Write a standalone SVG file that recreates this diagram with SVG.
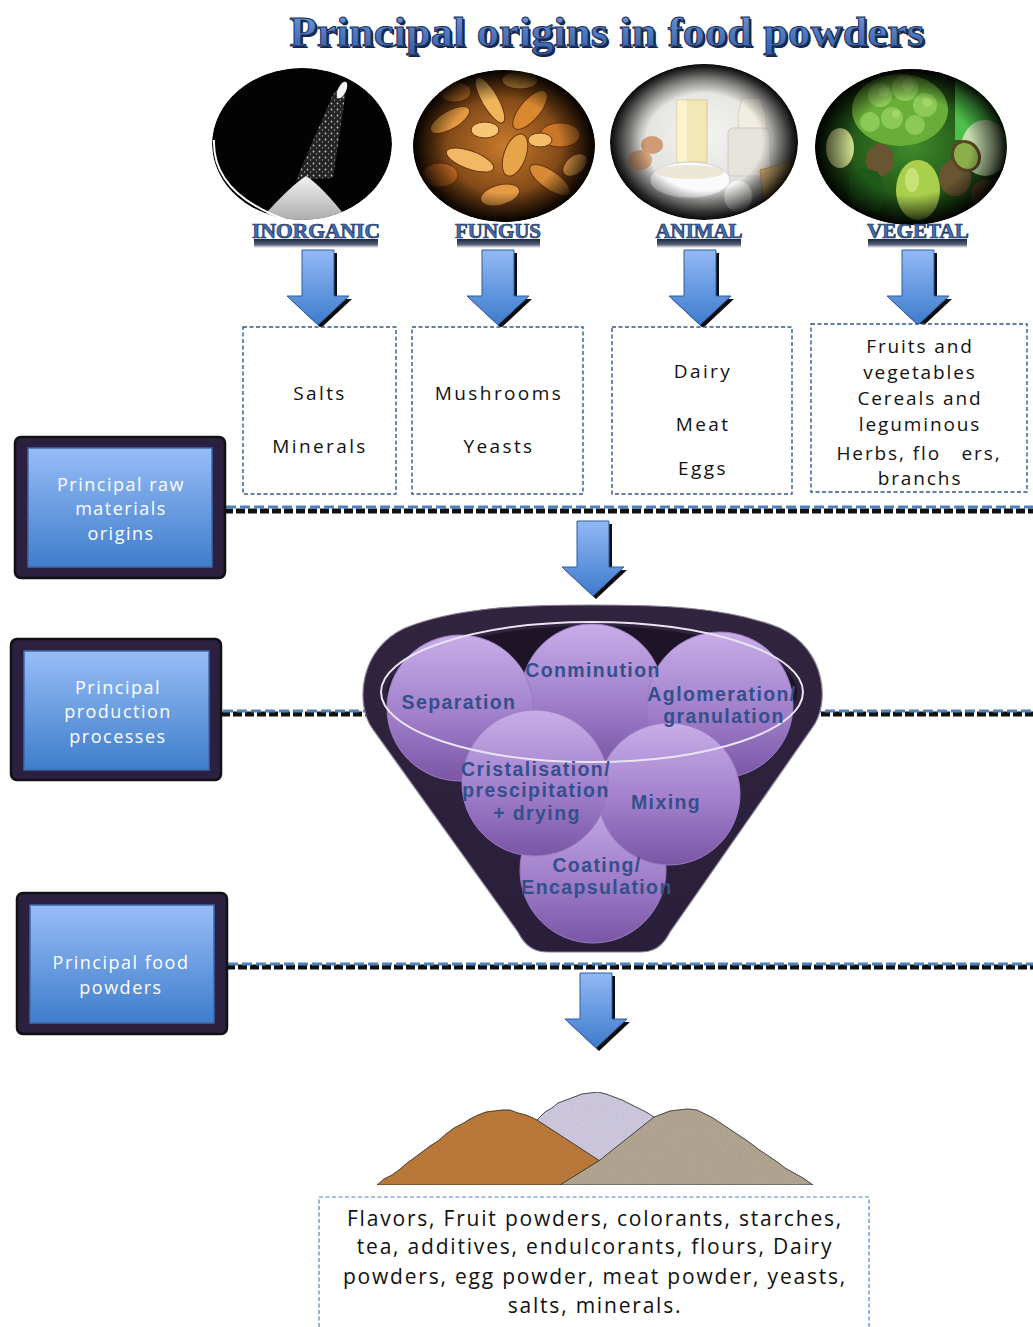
<svg xmlns="http://www.w3.org/2000/svg" xmlns:xlink="http://www.w3.org/1999/xlink" width="1033" height="1327" viewBox="0 0 1033 1327">
<style>
.title{font-family:"Liberation Serif",serif;font-weight:bold;font-size:42px;fill:url(#titleGrad);stroke:#1a2e55;stroke-width:1}
.cat{font-family:"Liberation Serif",serif;font-weight:bold;font-size:20px;fill:#3f6fb5;stroke:#1b2f57;stroke-width:0.7}
.refl{fill:url(#reflGrad)}
.box{fill:#fff;stroke:#2f5597;stroke-width:1.4;stroke-dasharray:4 2.5}
.btxt{font-family:"Open Sans","Liberation Sans",sans-serif;font-size:19px;fill:#111;letter-spacing:2.4px;text-anchor:middle}
.ltxt{font-family:"Open Sans","Liberation Sans",sans-serif;font-size:18px;fill:#fff;letter-spacing:1.5px;text-anchor:middle}
.ftxt{font-family:"Liberation Sans",Arial,sans-serif;font-weight:bold;font-size:19.5px;fill:#34508a;letter-spacing:1.4px;text-anchor:middle}
.ptxt{font-family:"Open Sans","Liberation Sans",sans-serif;font-size:21px;fill:#111;letter-spacing:1.8px;text-anchor:middle}
.outer{fill:#2b2040;stroke:#111;stroke-width:2.5}
.inner{fill:url(#blueGrad);stroke:#3b68ad;stroke-width:1.5}
.hb{fill:none;stroke:#111;stroke-width:5;stroke-dasharray:9 3}
.hs{fill:none;stroke:#4f81bd;stroke-width:3;stroke-dasharray:10 4}
.circ{fill:url(#purpGrad);stroke:#9a7cc4;stroke-width:1}
</style>
<defs>
<linearGradient id="titleGrad" x1="0" y1="0" x2="0" y2="1"><stop offset="0" stop-color="#6f9be0"/><stop offset="1" stop-color="#2e5ca8"/></linearGradient>
<linearGradient id="reflGrad" x1="0" y1="0" x2="0" y2="1"><stop offset="0" stop-color="#0d1a30" stop-opacity="0.95"/><stop offset="0.6" stop-color="#1a2a48" stop-opacity="0.75"/><stop offset="1" stop-color="#1a2a48" stop-opacity="0"/></linearGradient>
<linearGradient id="blueGrad" x1="0" y1="0" x2="0" y2="1"><stop offset="0" stop-color="#97bdf7"/><stop offset="1" stop-color="#3f7dcb"/></linearGradient>
<linearGradient id="arrGrad" x1="0" y1="0" x2="0" y2="1"><stop offset="0" stop-color="#92b9f6"/><stop offset="1" stop-color="#3e7bcc"/></linearGradient>
<linearGradient id="purpGrad" x1="0" y1="0" x2="0" y2="1"><stop offset="0" stop-color="#c8ade9"/><stop offset="0.55" stop-color="#a17fcb"/><stop offset="1" stop-color="#7a56a5"/></linearGradient>
<linearGradient id="funGrad" x1="0" y1="0" x2="0" y2="1"><stop offset="0" stop-color="#30243f"/><stop offset="1" stop-color="#2a1f3a"/></linearGradient>
<radialGradient id="vig" cx="0.5" cy="0.5" r="0.5"><stop offset="0.62" stop-color="#000" stop-opacity="0"/><stop offset="0.86" stop-color="#000" stop-opacity="0.55"/><stop offset="1" stop-color="#000" stop-opacity="0.95"/></radialGradient>
<radialGradient id="fungBase" cx="0.5" cy="0.5" r="0.5"><stop offset="0" stop-color="#c77a2c"/><stop offset="1" stop-color="#5a2e0c"/></radialGradient>
<radialGradient id="animBase" cx="0.5" cy="0.45" r="0.5"><stop offset="0" stop-color="#f4f4f2"/><stop offset="0.7" stop-color="#e2e2df"/><stop offset="1" stop-color="#9a9a98"/></radialGradient>
<radialGradient id="vegBase" cx="0.5" cy="0.5" r="0.5"><stop offset="0" stop-color="#3e8a2a"/><stop offset="1" stop-color="#173d10"/></radialGradient>
<linearGradient id="saltGrad" x1="0" y1="0" x2="0" y2="1"><stop offset="0" stop-color="#f2f2f2"/><stop offset="1" stop-color="#a9a9a9"/></linearGradient>
<pattern id="sparkle" width="6" height="6" patternUnits="userSpaceOnUse"><rect width="6" height="6" fill="#2a2a2a"/><circle cx="1.5" cy="1.5" r="0.9" fill="#e0e0e0"/><circle cx="4.5" cy="4" r="0.7" fill="#bdbdbd"/></pattern>
<clipPath id="c1"><ellipse cx="302" cy="144" rx="90" ry="76"/></clipPath>
<clipPath id="c2"><ellipse cx="504" cy="146" rx="91" ry="76"/></clipPath>
<clipPath id="c3"><ellipse cx="704" cy="142" rx="94" ry="78"/></clipPath>
<clipPath id="c4"><ellipse cx="911" cy="147" rx="96" ry="78"/></clipPath>
<filter id="grain" x="0" y="0" width="100%" height="100%"><feTurbulence type="fractalNoise" baseFrequency="0.9" numOctaves="2" result="n"/><feColorMatrix in="n" type="matrix" values="0 0 0 0 0  0 0 0 0 0  0 0 0 0 0  0 0 0 0.25 0" result="g"/><feComposite in="g" in2="SourceGraphic" operator="in" result="gi"/><feMerge><feMergeNode in="SourceGraphic"/><feMergeNode in="gi"/></feMerge></filter>
<g id="arrow">
<path d="M-16,0 H16 V46 H31 L0,75 L-31,46 H-16 Z" transform="translate(3,3)" fill="#0c0c0c"/>
<path d="M-16,0 H16 V46 H31 L0,75 L-31,46 H-16 Z" fill="url(#arrGrad)" stroke="#2f5d9e" stroke-width="1"/>
</g>
</defs>
<rect width="1033" height="1327" fill="#fff"/>

<g id="title">
<text x="609" y="48" text-anchor="middle" textLength="635" lengthAdjust="spacingAndGlyphs" style="font-family:'Liberation Serif',serif;font-weight:bold;font-size:42px;fill:#16264a">Principal origins in food powders</text>
<text x="607" y="46" class="title" text-anchor="middle" textLength="635" lengthAdjust="spacingAndGlyphs">Principal origins in food powders</text>
</g>

<!-- photo circles -->
<g id="inorganic">
<g clip-path="url(#c1)">
<ellipse cx="302" cy="144" rx="90" ry="76" fill="#030303"/>
<path d="M334,92 L347,84 L333,178 L296,180 L322,120 Z" fill="url(#sparkle)" opacity="0.85"/>
<ellipse cx="342" cy="90" rx="4" ry="9" fill="#f4f4f4" transform="rotate(25 342 90)"/>
<path d="M258,222 Q290,186 306,176 Q322,186 350,222 Z" fill="url(#saltGrad)"/>
</g>
<path d="M214,140 Q212,195 292,222" fill="none" stroke="#fff" stroke-width="2"/>
<path d="M372,196 Q385,186 388,176" fill="none" stroke="#fff" stroke-width="1.5"/>
<rect class="refl" x="254" y="239" width="124" height="9"/>
<text x="316" y="238" class="cat" text-anchor="middle" textLength="128" lengthAdjust="spacingAndGlyphs">INORGANIC</text>
</g>

<g id="fungus">
<g clip-path="url(#c2)">
<ellipse cx="504" cy="146" rx="91" ry="76" fill="url(#fungBase)"/>
<g stroke="#6b3510" stroke-width="1">
<ellipse cx="450" cy="120" rx="22" ry="9" fill="#e39a3f" transform="rotate(-30 450 120)"/>
<ellipse cx="490" cy="100" rx="26" ry="8" fill="#f0b45a" transform="rotate(60 490 100)"/>
<ellipse cx="530" cy="110" rx="24" ry="10" fill="#d98830" transform="rotate(-50 530 110)"/>
<ellipse cx="560" cy="135" rx="20" ry="12" fill="#c9762a"/>
<ellipse cx="470" cy="160" rx="25" ry="9" fill="#f2b865" transform="rotate(20 470 160)"/>
<ellipse cx="515" cy="155" rx="22" ry="11" fill="#e8a448" transform="rotate(-70 515 155)"/>
<ellipse cx="550" cy="180" rx="24" ry="9" fill="#d68a36" transform="rotate(35 550 180)"/>
<ellipse cx="440" cy="175" rx="18" ry="12" fill="#b9651f"/>
<ellipse cx="500" cy="195" rx="20" ry="10" fill="#e49c44" transform="rotate(-15 500 195)"/>
<ellipse cx="455" cy="92" rx="16" ry="10" fill="#c87428"/>
<ellipse cx="575" cy="165" rx="14" ry="9" fill="#eaa24a" transform="rotate(-40 575 165)"/>
<ellipse cx="520" cy="80" rx="18" ry="9" fill="#d8923c"/>
<ellipse cx="485" cy="130" rx="14" ry="8" fill="#f6c777"/>
<ellipse cx="540" cy="140" rx="12" ry="7" fill="#f3bd6b"/>
</g>
<ellipse cx="504" cy="146" rx="91" ry="76" fill="url(#vig)"/>
</g>
<rect class="refl" x="457" y="239" width="83" height="9"/>
<text x="498" y="238" class="cat" text-anchor="middle" textLength="86" lengthAdjust="spacingAndGlyphs">FUNGUS</text>
</g>

<g id="animal">
<g clip-path="url(#c3)">
<ellipse cx="704" cy="142" rx="94" ry="78" fill="url(#animBase)"/>
<rect x="677" y="100" width="30" height="62" fill="#f3e7b5" stroke="#d8c98e" stroke-width="1"/>
<rect x="677" y="100" width="10" height="62" fill="#fff6d4" opacity="0.7"/>
<path d="M742,98 L760,98 L766,115 L768,170 L740,170 L738,115 Z" fill="#f1ede2" stroke="#d6d0c2" stroke-width="1"/>
<rect x="728" y="128" width="42" height="48" rx="5" fill="#e6e3dc" stroke="#cfcac0" stroke-width="1"/>
<ellipse cx="690" cy="180" rx="40" ry="18" fill="#fafafa" stroke="#d0d0d0" stroke-width="1"/>
<ellipse cx="690" cy="172" rx="34" ry="7" fill="#ece6d6"/>
<ellipse cx="640" cy="160" rx="12" ry="10" fill="#d4a27c"/>
<ellipse cx="652" cy="145" rx="11" ry="9" fill="#cf9a74"/>
<ellipse cx="738" cy="196" rx="14" ry="16" fill="#f7f7f5" stroke="#d8d8d8" stroke-width="1"/>
<path d="M760,170 L790,162 L795,200 L765,210 Z" fill="#e2bb7c" stroke="#c99c58" stroke-width="1"/>
<ellipse cx="704" cy="142" rx="94" ry="78" fill="url(#vig)"/>
</g>
<rect class="refl" x="657" y="239" width="84" height="9"/>
<text x="699" y="238" class="cat" text-anchor="middle" textLength="87" lengthAdjust="spacingAndGlyphs">ANIMAL</text>
</g>

<g id="vegetal">
<g clip-path="url(#c4)">
<ellipse cx="911" cy="147" rx="96" ry="78" fill="url(#vegBase)"/>
<rect x="955" y="80" width="60" height="60" fill="#4cc04a"/>
<ellipse cx="900" cy="110" rx="48" ry="36" fill="#6aae3a"/>
<g fill="#8cc957">
<circle cx="880" cy="95" r="12"/><circle cx="905" cy="88" r="13"/><circle cx="925" cy="105" r="12"/><circle cx="892" cy="118" r="11"/><circle cx="870" cy="122" r="10"/><circle cx="915" cy="125" r="10"/>
</g>
<g fill="#a6da6e" opacity="0.8"><circle cx="884" cy="92" r="5"/><circle cx="908" cy="85" r="6"/><circle cx="927" cy="102" r="5"/><circle cx="896" cy="114" r="4"/></g>
<ellipse cx="985" cy="148" rx="24" ry="28" fill="#c6dfae"/>
<ellipse cx="840" cy="148" rx="14" ry="20" fill="#c9d98a"/>
<ellipse cx="880" cy="160" rx="14" ry="16" fill="#6a5532"/>
<ellipse cx="955" cy="178" rx="16" ry="18" fill="#6a5532"/>
<ellipse cx="966" cy="156" rx="13" ry="15" fill="#8bb04a" stroke="#5a4428" stroke-width="3" transform="rotate(-30 966 156)"/>
<path d="M850,175 Q860,165 878,172 Q890,190 880,210 Q860,215 848,200 Z" fill="#1e5a1a"/>
<ellipse cx="918" cy="190" rx="22" ry="30" fill="#a9cf4c"/>
<ellipse cx="912" cy="180" rx="7" ry="12" fill="#d6ec8a" opacity="0.7"/>
<ellipse cx="985" cy="195" rx="14" ry="15" fill="#5e4a2c"/>
<ellipse cx="911" cy="147" rx="96" ry="78" fill="url(#vig)"/>
</g>
<rect class="refl" x="868" y="239" width="99" height="9"/>
<text x="918" y="238" class="cat" text-anchor="middle" textLength="102" lengthAdjust="spacingAndGlyphs">VEGETAL</text>
</g>

<!-- connectors -->
<g id="connectors">
<use href="#arrow" xlink:href="#arrow" transform="translate(318,250)"/>
<use href="#arrow" xlink:href="#arrow" transform="translate(498,250)"/>
<use href="#arrow" xlink:href="#arrow" transform="translate(700,250)"/>
<use href="#arrow" xlink:href="#arrow" transform="translate(918,250)"/>
<use href="#arrow" xlink:href="#arrow" transform="translate(593,521)"/>
<use href="#arrow" xlink:href="#arrow" transform="translate(596,973)"/>
<path class="hb" d="M212,511 H1033"/>
<path class="hs" d="M212,507 H1033"/>
<path class="hb" d="M209,714 H1033"/>
<path class="hs" d="M209,711 H1033"/>
<path class="hb" d="M214,967 H1033"/>
<path class="hs" d="M214,964 H1033"/>
</g>

<!-- dashed boxes -->
<g id="box-inorganic">
<rect class="box" x="243" y="327" width="153" height="167"/>
<text class="btxt" x="320" y="400">Salts</text>
<text class="btxt" x="320" y="453">Minerals</text>
</g>
<g id="box-fungus">
<rect class="box" x="412" y="327" width="171" height="167"/>
<text class="btxt" x="499" y="400">Mushrooms</text>
<text class="btxt" x="499" y="453">Yeasts</text>
</g>
<g id="box-animal">
<rect class="box" x="612" y="327" width="180" height="167"/>
<text class="btxt" x="703" y="378">Dairy</text>
<text class="btxt" x="703" y="431">Meat</text>
<text class="btxt" x="703" y="475">Eggs</text>
</g>
<g id="box-vegetal">
<rect class="box" x="811" y="324" width="216" height="168"/>
<text class="btxt" x="920" y="353" style="letter-spacing:1.9px">Fruits and</text>
<text class="btxt" x="920" y="379" style="letter-spacing:1.9px">vegetables</text>
<text class="btxt" x="920" y="405" style="letter-spacing:1.9px">Cereals and</text>
<text class="btxt" x="920" y="431" style="letter-spacing:1.9px">leguminous</text>
<text class="btxt" x="919" y="460" style="letter-spacing:1.9px" xml:space="preserve">Herbs, flo   ers,</text>
<text class="btxt" x="920" y="485" style="letter-spacing:1.9px">branchs</text>
</g>

<!-- left panels -->
<g id="panel-raw">
<rect class="outer" x="15" y="437" width="210" height="141" rx="6"/>
<rect class="inner" x="28" y="448" width="184" height="119"/>
<text class="ltxt" x="121" y="491">Principal raw</text>
<text class="ltxt" x="121" y="515">materials</text>
<text class="ltxt" x="121" y="540">origins</text>
</g>
<g id="panel-process">
<rect class="outer" x="11" y="639" width="210" height="141" rx="6"/>
<rect class="inner" x="24" y="651" width="185" height="119"/>
<text class="ltxt" x="118" y="694">Principal</text>
<text class="ltxt" x="118" y="718">production</text>
<text class="ltxt" x="118" y="743">processes</text>
</g>
<g id="panel-powders">
<rect class="outer" x="17" y="893" width="210" height="141" rx="6"/>
<rect class="inner" x="30" y="905" width="184" height="118"/>
<text class="ltxt" x="121" y="969">Principal food</text>
<text class="ltxt" x="121" y="994">powders</text>
</g>

<!-- funnel -->
<g id="funnel">
<path d="M372,728 C356,705 358,650 405,628 C460,606 530,605 592,605 C655,605 725,606 780,628 C827,650 830,705 812,728 L670,932 C662,948 652,952 640,952 L548,952 C536,952 526,948 518,932 Z" fill="url(#funGrad)" stroke="#8a8296" stroke-width="1.2"/>
<ellipse cx="592" cy="692" rx="205" ry="66" fill="#1d1526"/>
</g>
<g id="n-conminution"><circle class="circ" cx="592" cy="695" r="71"/></g>
<g id="n-coating"><circle class="circ" cx="593" cy="870" r="73"/></g>
<g id="n-separation"><circle class="circ" cx="460" cy="708" r="73"/></g>
<g id="n-aglomeration"><circle class="circ" cx="720" cy="705" r="73"/></g>
<g id="n-mixing"><circle class="circ" cx="669" cy="794" r="71"/></g>
<g id="n-cristalisation"><circle class="circ" cx="535" cy="783" r="73"/></g>
<ellipse cx="592" cy="692" rx="211" ry="70" fill="none" stroke="#e8e4f0" stroke-width="2"/>
<g id="funnel-labels">
<text class="ftxt" x="593" y="677">Conminution</text>
<text class="ftxt" x="459" y="709">Separation</text>
<text class="ftxt" x="722" y="701">Aglomeration/</text>
<text class="ftxt" x="724" y="723">granulation</text>
<text class="ftxt" x="536" y="776">Cristalisation/</text>
<text class="ftxt" x="536" y="797">prescipitation</text>
<text class="ftxt" x="537" y="820">+ drying</text>
<text class="ftxt" x="666" y="809">Mixing</text>
<text class="ftxt" x="597" y="872">Coating/</text>
<text class="ftxt" x="597" y="894">Encapsulation</text>
</g>

<!-- powder piles -->
<g id="powders" filter="url(#grain)">
<path d="M520,1140 L530,1126 L537,1120 L545,1112 L552,1108 L558,1103 L566,1100 L574,1097 L582,1094 L590,1093 L598,1092 L606,1094 L614,1097 L622,1100 L630,1104 L638,1108 L646,1112 L654,1117 L680,1150 L600,1162 Z" fill="#d7d1e9" stroke="#2a2a2a" stroke-width="0.8"/>
<path d="M377,1185 L384,1179 L392,1175 L399,1170 L407,1163 L414,1158 L422,1152 L430,1146 L438,1141 L446,1134 L454,1128 L462,1124 L470,1119 L478,1115 L486,1112 L494,1111 L502,1110 L510,1110 L518,1113 L526,1115 L533,1118 L537,1120 L600,1161 L572,1185 Z" fill="#c3803c" stroke="#2a2a2a" stroke-width="0.8"/>
<path d="M560,1185 L600,1160 L654,1117 L662,1114 L670,1111 L678,1110 L688,1109 L697,1110 L705,1114 L713,1118 L722,1124 L731,1130 L740,1136 L749,1142 L758,1149 L767,1155 L776,1161 L785,1168 L794,1173 L803,1178 L813,1185 Z" fill="#b9ad99" stroke="#2a2a2a" stroke-width="0.8"/>
</g>

<g id="products">
<path d="M319,1327 V1197 H869 V1327" fill="#fff" stroke="#4f81bd" stroke-width="1.2" stroke-dasharray="4 2.5"/>
<text class="ptxt" x="595" y="1226">Flavors, Fruit powders, colorants, starches,</text>
<text class="ptxt" x="595" y="1254">tea, additives, endulcorants, flours, Dairy</text>
<text class="ptxt" x="595" y="1284">powders, egg powder, meat powder, yeasts,</text>
<text class="ptxt" x="595" y="1313">salts, minerals.</text>
</g>
</svg>
